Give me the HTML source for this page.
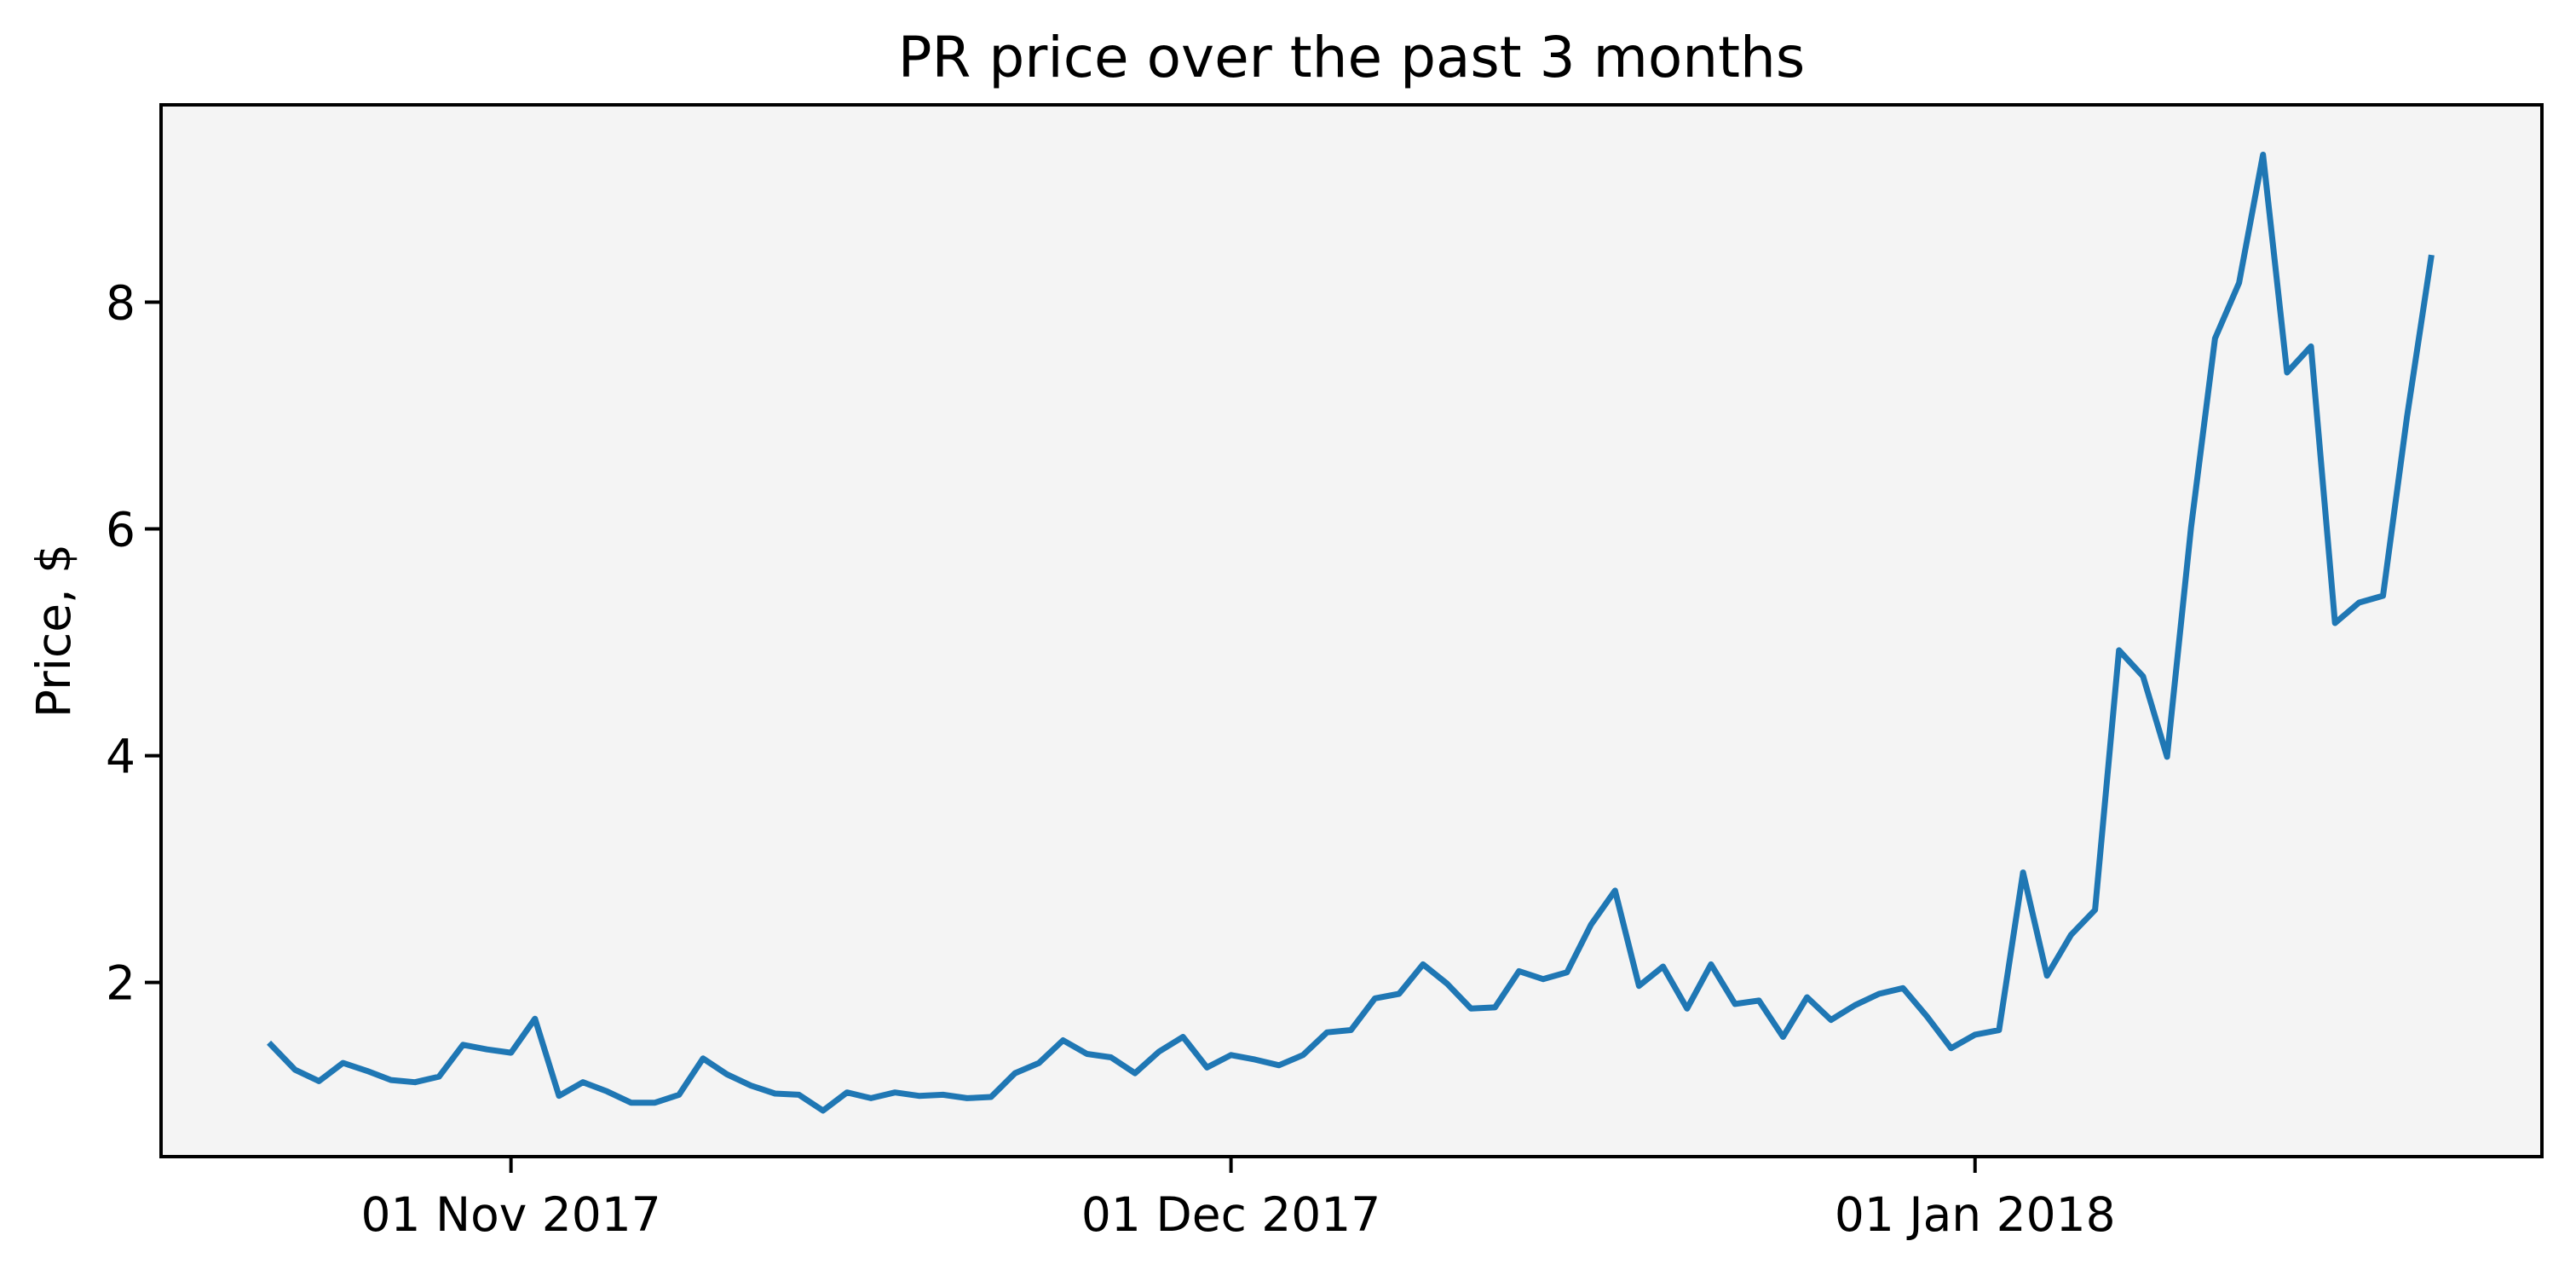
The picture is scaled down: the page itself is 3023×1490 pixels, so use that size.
<!DOCTYPE html>
<html><head><meta charset="utf-8"><style>
html,body{margin:0;padding:0;background:#fff;}
svg{display:block;font-family:"DejaVu Sans","Liberation Sans",sans-serif;}
</style></head><body>
<svg id="chart" width="3023" height="1490" viewBox="0 0 3023 1490" xmlns="http://www.w3.org/2000/svg">
<rect x="0" y="0" width="3023" height="1490" fill="#fff"/>
<rect x="189" y="123" width="2794" height="1234" fill="#f4f4f4"/>
<polyline id="series" fill="none" stroke="#1f77b4" stroke-width="7" stroke-linejoin="round" stroke-linecap="square"/>
<rect x="189" y="123" width="2794" height="1234" fill="none" stroke="#000" stroke-width="4"/>
<g id="yaxis"></g>
<g id="xaxis"></g>
<text x="1586" y="90" text-anchor="middle" font-size="66">PR price over the past 3 months</text>
<text x="0" y="0" transform="translate(82,740) rotate(-90)" text-anchor="middle" font-size="55">Price, $</text>
</svg>
<script>
const prices = [1.45,1.23,1.13,1.29,1.22,1.14,1.12,1.17,1.45,1.41,1.38,1.68,1.00,1.12,1.04,0.94,0.94,1.01,1.33,1.19,1.09,1.02,1.01,0.87,1.03,0.98,1.03,1.00,1.01,0.98,0.99,1.20,1.29,1.49,1.37,1.34,1.20,1.39,1.52,1.25,1.36,1.32,1.27,1.36,1.56,1.58,1.86,1.90,2.16,1.99,1.77,1.78,2.10,2.03,2.09,2.51,2.81,1.97,2.14,1.77,2.16,1.81,1.84,1.52,1.87,1.67,1.80,1.90,1.95,1.70,1.42,1.54,1.58,2.97,2.06,2.42,2.64,4.93,4.70,3.99,6.01,7.68,8.17,9.30,7.38,7.61,5.17,5.35,5.41,6.99,8.39];
const startDay = -10;
const yTicks = [2,4,6,8];
const xTickDays = [0,30,61];
const xTickLabels = ["01 Nov 2017","01 Dec 2017","01 Jan 2018"];

const NS="http://www.w3.org/2000/svg";
const X0=189,X1=2983,Y0=123,Y1=1357;
const yMin=0.464,yMax=9.74;
const dMin=-14.58,dMax=84.62;
function sx(d){return X0+(d-dMin)/(dMax-dMin)*(X1-X0);}
function sy(v){return Y1-(v-yMin)/(yMax-yMin)*(Y1-Y0);}

const pts=prices.map((v,i)=>sx(startDay+i).toFixed(1)+","+sy(v).toFixed(1)).join(" ");
document.getElementById("series").setAttribute("points",pts);

const ya=document.getElementById("yaxis");
yTicks.forEach(t=>{
  const y=sy(t);
  const l=document.createElementNS(NS,"line");
  
  
  l.setAttribute("x1",X0-19);l.setAttribute("x2",X0);l.setAttribute("y1",y);l.setAttribute("y2",y);
  l.setAttribute("stroke","#000");l.setAttribute("stroke-width","4");
  ya.appendChild(l);
  const tx=document.createElementNS(NS,"text");
  
  
  tx.setAttribute("x",X0-30);tx.setAttribute("y",y+20);tx.setAttribute("text-anchor","end");tx.setAttribute("font-size","55");
  tx.textContent=String(t);
  ya.appendChild(tx);
});
const xa=document.getElementById("xaxis");
xTickDays.forEach((d,i)=>{
  const x=sx(d);
  const l=document.createElementNS(NS,"line");
  
  
  l.setAttribute("x1",x);l.setAttribute("x2",x);l.setAttribute("y1",Y1);l.setAttribute("y2",Y1+19);
  l.setAttribute("stroke","#000");l.setAttribute("stroke-width","4");
  xa.appendChild(l);
  const tx=document.createElementNS(NS,"text");
  
  
  tx.setAttribute("x",x);tx.setAttribute("y",1444);tx.setAttribute("text-anchor","middle");tx.setAttribute("font-size","55");
  tx.textContent=xTickLabels[i];
  xa.appendChild(tx);
});
</script>
</body></html>
